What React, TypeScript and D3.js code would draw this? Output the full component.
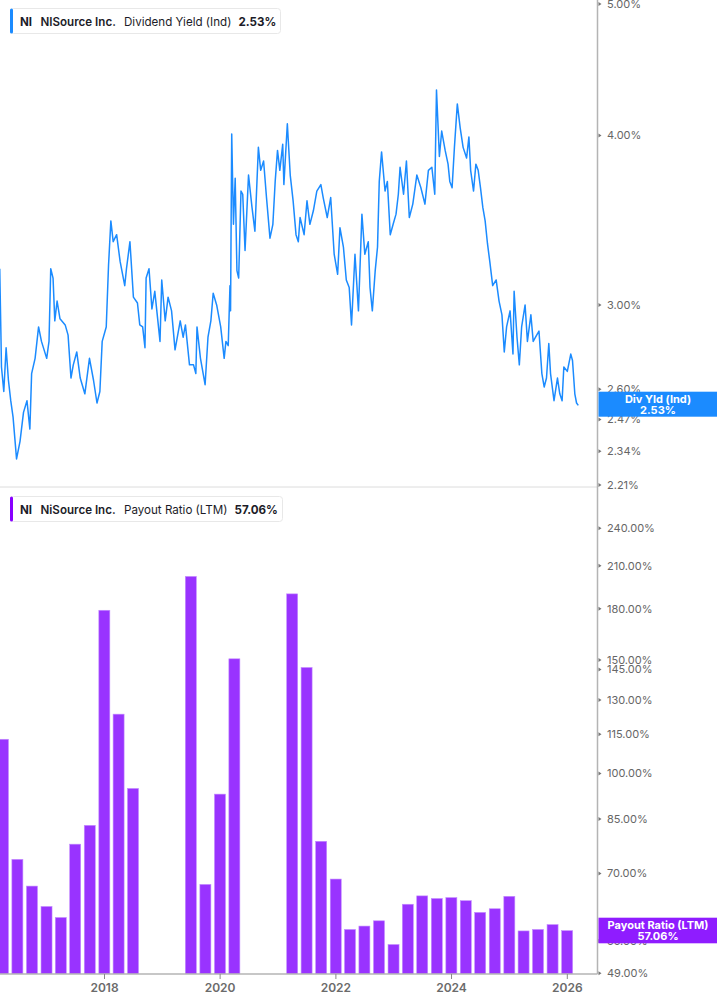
import * as d3 from "d3";

// Dividend yield (indicated), % — [decimal year, value]
const DIV_YIELD: [number, number][] = [
  [2016.19, 3.19], [2016.21, 2.86], [2016.22, 2.7], [2016.26, 2.59], [2016.3, 2.79],
  [2016.34, 2.64], [2016.38, 2.55], [2016.42, 2.48], [2016.48, 2.31], [2016.54, 2.38],
  [2016.6, 2.5], [2016.66, 2.55], [2016.71, 2.43], [2016.74, 2.67], [2016.8, 2.74],
  [2016.86, 2.89], [2016.91, 2.82], [2017.0, 2.74], [2017.04, 2.82], [2017.07, 3.19],
  [2017.11, 3.14], [2017.14, 2.92], [2017.18, 3.02], [2017.23, 2.93], [2017.32, 2.9],
  [2017.37, 2.85], [2017.42, 2.65], [2017.46, 2.71], [2017.52, 2.77], [2017.58, 2.65],
  [2017.66, 2.58], [2017.74, 2.74], [2017.81, 2.64], [2017.87, 2.54], [2017.92, 2.59],
  [2017.96, 2.82], [2018.03, 2.89], [2018.07, 3.21], [2018.11, 3.46], [2018.15, 3.34],
  [2018.21, 3.38], [2018.27, 3.23], [2018.35, 3.1], [2018.38, 3.19], [2018.44, 3.34],
  [2018.5, 3.04], [2018.57, 3.01], [2018.61, 2.9], [2018.66, 2.89], [2018.7, 2.79],
  [2018.72, 3.14], [2018.77, 3.19], [2018.82, 2.98], [2018.87, 3.07], [2018.96, 2.82],
  [2018.99, 3.13], [2019.05, 2.92], [2019.1, 3.04], [2019.16, 2.97], [2019.22, 2.78],
  [2019.31, 2.92], [2019.36, 2.84], [2019.4, 2.9], [2019.47, 2.71], [2019.54, 2.71],
  [2019.58, 2.67], [2019.6, 2.89], [2019.66, 2.74], [2019.74, 2.62], [2019.79, 2.84],
  [2019.84, 2.92], [2019.88, 3.06], [2019.94, 3.0], [2020.01, 2.89], [2020.07, 2.74],
  [2020.1, 2.82], [2020.14, 2.8], [2020.17, 3.1], [2020.18, 2.97], [2020.2, 4.01],
  [2020.23, 3.44], [2020.26, 3.72], [2020.29, 3.18], [2020.32, 3.14], [2020.36, 3.64],
  [2020.39, 3.62], [2020.43, 3.29], [2020.49, 3.74], [2020.55, 3.54], [2020.6, 3.4],
  [2020.66, 3.92], [2020.7, 3.77], [2020.75, 3.83], [2020.8, 3.6], [2020.86, 3.36],
  [2020.91, 3.44], [2020.95, 3.7], [2020.99, 3.9], [2021.03, 3.77], [2021.08, 3.94],
  [2021.1, 3.68], [2021.16, 4.08], [2021.21, 3.74], [2021.26, 3.58], [2021.31, 3.38],
  [2021.35, 3.34], [2021.38, 3.48], [2021.45, 3.38], [2021.5, 3.58], [2021.55, 3.44],
  [2021.61, 3.52], [2021.67, 3.64], [2021.74, 3.68], [2021.78, 3.6], [2021.85, 3.48],
  [2021.91, 3.6], [2021.97, 3.27], [2022.03, 3.16], [2022.07, 3.42], [2022.13, 3.31],
  [2022.18, 3.13], [2022.23, 3.09], [2022.27, 2.9], [2022.33, 3.27], [2022.39, 2.97],
  [2022.45, 3.5], [2022.5, 3.27], [2022.56, 3.34], [2022.59, 3.09], [2022.63, 2.97],
  [2022.68, 3.18], [2022.72, 3.31], [2022.75, 3.7], [2022.79, 3.89], [2022.85, 3.64],
  [2022.89, 3.7], [2022.94, 3.38], [2022.99, 3.44], [2023.04, 3.5], [2023.08, 3.62],
  [2023.11, 3.79], [2023.17, 3.62], [2023.22, 3.83], [2023.27, 3.48], [2023.33, 3.56],
  [2023.4, 3.74], [2023.47, 3.66], [2023.54, 3.56], [2023.6, 3.77], [2023.66, 3.79],
  [2023.71, 3.62], [2023.74, 4.32], [2023.79, 3.86], [2023.83, 4.03], [2023.89, 3.9],
  [2023.94, 3.81], [2023.97, 3.7], [2024.01, 3.66], [2024.05, 3.92], [2024.1, 4.22],
  [2024.15, 4.05], [2024.2, 3.92], [2024.26, 3.85], [2024.3, 3.99], [2024.33, 3.77],
  [2024.38, 3.64], [2024.42, 3.81], [2024.46, 3.77], [2024.5, 3.66], [2024.54, 3.54],
  [2024.58, 3.46], [2024.62, 3.33], [2024.66, 3.23], [2024.71, 3.1], [2024.77, 3.13],
  [2024.82, 3.02], [2024.87, 2.95], [2024.91, 2.77], [2024.95, 2.89], [2025.01, 2.97],
  [2025.06, 2.76], [2025.08, 3.07], [2025.13, 2.84], [2025.17, 2.71], [2025.21, 2.89],
  [2025.27, 3.0], [2025.31, 2.82], [2025.37, 2.95], [2025.41, 2.82], [2025.47, 2.85],
  [2025.51, 2.87], [2025.56, 2.67], [2025.6, 2.61], [2025.64, 2.65], [2025.68, 2.81],
  [2025.71, 2.67], [2025.77, 2.55], [2025.83, 2.65], [2025.87, 2.58], [2025.91, 2.55],
  [2025.94, 2.7], [2026.0, 2.68], [2026.06, 2.76], [2026.09, 2.73], [2026.13, 2.58],
  [2026.16, 2.54], [2026.19, 2.53],
];

// Payout ratio (LTM), % — quarter ends; quarters with no ratio are left out
const PAYOUT_QUARTERS = [
  "2016-03-31", "2016-06-30", "2016-09-30", "2016-12-31", "2017-03-31", "2017-06-30",
  "2017-09-30", "2017-12-31", "2018-03-31", "2018-06-30", "2019-06-30", "2019-09-30",
  "2019-12-31", "2020-03-31", "2021-03-31", "2021-06-30", "2021-09-30", "2021-12-31",
  "2022-03-31", "2022-06-30", "2022-09-30", "2022-12-31", "2023-03-31", "2023-06-30",
  "2023-09-30", "2023-12-31", "2024-03-31", "2024-06-30", "2024-09-30", "2024-12-31",
  "2025-03-31", "2025-06-30", "2025-09-30", "2025-12-31",
];
const PAYOUT_VALUES = [
  113.0, 73.6, 66.9, 62.2, 59.8, 77.7, 83.1, 179.1, 123.6, 94.8, 202.1, 67.3,
  92.9, 150.6, 189.9, 146.0, 78.5, 68.6, 57.3, 58.0, 59.1, 54.3, 62.7, 64.6,
  64.0, 64.2, 63.5, 60.9, 61.7, 64.5, 57.0, 57.3, 58.3, 57.06,
];

const YIELD_TICKS = [5.0, 4.0, 3.0, 2.6, 2.47, 2.34, 2.21];
const PAYOUT_TICKS = [240, 210, 180, 150, 145, 130, 115, 100, 85, 70, 55, 49];
const YEAR_TICKS = [2018, 2020, 2022, 2024, 2026];

const LAST_YIELD = "2.53%";
const LAST_PAYOUT = "57.06%";

const W = 717;
const H = 1005;
const AXIS_X = 597.5;
const SPLIT_Y = 487;
const BASE_Y = 974;
const FONT = "Inter, 'Noto Sans', sans-serif";
const BLUE = "#1b8bff";
const PURPLE = "#9933ff";

const toDate = (t: number) => {
  const y = Math.floor(t);
  const a = Date.UTC(y, 0, 1);
  const b = Date.UTC(y + 1, 0, 1);
  return new Date(a + (t - y) * (b - a));
};
const parse = d3.utcParse("%Y-%m-%d");

export default function App() {
  const x = d3
    .scaleUtc()
    .domain([toDate(2018), toDate(2026)])
    .range([104.5, 567.3]);
  const yTop = d3.scaleLog().domain([2.21, 5]).range([485, 4]);
  const yBot = d3.scaleLog().domain([49, 240]).range([BASE_Y - 0.7, 528.3]);

  const line = d3
    .line<[number, number]>()
    .x((d) => x(toDate(d[0])))
    .y((d) => yTop(d[1]))
    .curve(d3.curveLinear);

  const bars = PAYOUT_QUARTERS.map((q, i) => ({ date: parse(q)!, value: PAYOUT_VALUES[i] }));
  const bw = 11;

  const tickMark = (ty: number, key: string) => (
    <path key={key} d={`M${AXIS_X + 1},${ty - 2}L${AXIS_X + 4},${ty}L${AXIS_X + 1},${ty + 2}Z`} fill="#777" />
  );

  return (
    <svg
      width={W}
      height={H}
      viewBox={`0 0 ${W} ${H}`}
      style={{ position: "absolute", left: 0, top: 0, background: "#fff", fontFamily: FONT }}
    >
      <defs>
        <clipPath id="plotTop">
          <rect x={0} y={0} width={AXIS_X} height={SPLIT_Y} />
        </clipPath>
        <clipPath id="plotBot">
          <rect x={0} y={SPLIT_Y} width={AXIS_X} height={BASE_Y - SPLIT_Y} />
        </clipPath>
      </defs>

      {/* panel separator */}
      <line x1={0} x2={AXIS_X} y1={SPLIT_Y} y2={SPLIT_Y} stroke="#dcdcdc" strokeWidth={1} />

      {/* dividend yield line */}
      <path
        d={line(DIV_YIELD) ?? ""}
        fill="none"
        stroke={BLUE}
        strokeWidth={1.5}
        strokeLinejoin="round"
        clipPath="url(#plotTop)"
      />

      {/* payout bars */}
      <g clipPath="url(#plotBot)">
        {bars.map((b) => (
          <rect
            key={b.date.toISOString()}
            x={x(b.date) - bw / 2}
            y={yBot(b.value)}
            width={bw}
            height={BASE_Y - yBot(b.value)}
            fill={PURPLE}
            stroke="#c38cff"
            strokeWidth={0.6}
          />
        ))}
      </g>

      {/* x axis */}
      <line x1={0} x2={AXIS_X} y1={BASE_Y} y2={BASE_Y} stroke="#b4b4b4" strokeWidth={1.5} />
      {YEAR_TICKS.map((yr) => (
        <g key={yr}>
          <line x1={x(toDate(yr))} x2={x(toDate(yr))} y1={BASE_Y} y2={BASE_Y + 5} stroke="#888" strokeWidth={1} />
          <text
            x={x(toDate(yr))}
            y={BASE_Y + 18}
            textAnchor="middle"
            fontSize={12}
            fontWeight={600}
            fill="#6b6b6b"
          >
            {yr}
          </text>
        </g>
      ))}

      {/* right axis */}
      <line x1={AXIS_X} x2={AXIS_X} y1={0} y2={BASE_Y} stroke="#b4b4b4" strokeWidth={1.5} />
      {YIELD_TICKS.map((t) => (
        <g key={`yt${t}`}>
          {tickMark(yTop(t), `m${t}`)}
          <text x={607} y={yTop(t)} dy="0.35em" fontSize={11} fill="#666">
            {t.toFixed(2)}%
          </text>
        </g>
      ))}
      {PAYOUT_TICKS.map((t) => (
        <g key={`pt${t}`}>
          {tickMark(yBot(t), `m${t}`)}
          <text x={607} y={yBot(t)} dy="0.35em" fontSize={11} fill="#666">
            {t.toFixed(2)}%
          </text>
        </g>
      ))}

      {/* last value labels */}
      <rect x={AXIS_X + 1} y={391.7} width={W - AXIS_X} height={25} fill={BLUE} />
      <text x={658} y={402.5} textAnchor="middle" fontSize={11} fontWeight={700} fill="#fff">
        Div Yld (Ind)
      </text>
      <text x={658} y={414} textAnchor="middle" fontSize={11} fontWeight={700} fill="#fff">
        {LAST_YIELD}
      </text>

      <rect x={AXIS_X + 1} y={917.7} width={W - AXIS_X} height={25.6} fill="#8f1cff" />
      <text x={658} y={929} textAnchor="middle" fontSize={11} fontWeight={700} fill="#fff">
        Payout Ratio (LTM)
      </text>
      <text x={658} y={940} textAnchor="middle" fontSize={11} fontWeight={700} fill="#fff">
        {LAST_PAYOUT}
      </text>

      {/* legends */}
      <g>
        <rect x={10.5} y={8.5} width={270} height={25} rx={3} fill="#fff" stroke="#e8e8e8" />
        <rect x={10} y={8.5} width={3} height={25} rx={1.5} fill={BLUE} />
        <text y={25.5} fontSize={11.6} fill="#1c1c28">
          <tspan x={20} fontWeight={700}>NI</tspan>
          <tspan x={40.5} fontWeight={600}>NISource Inc.</tspan>
          <tspan x={124} fontWeight={400}>Dividend Yield (Ind)</tspan>
          <tspan x={238.5} fontWeight={700}>{LAST_YIELD}</tspan>
        </text>
      </g>
      <g>
        <rect x={10.5} y={496.5} width={272} height={25} rx={3} fill="#fff" stroke="#e8e8e8" />
        <rect x={10} y={496.5} width={3} height={25} rx={1.5} fill="#8800ff" />
        <text y={513.5} fontSize={11.6} fill="#1c1c28">
          <tspan x={20} fontWeight={700}>NI</tspan>
          <tspan x={40.5} fontWeight={600}>NiSource Inc.</tspan>
          <tspan x={124} fontWeight={400}>Payout Ratio (LTM)</tspan>
          <tspan x={234.5} fontWeight={700}>{LAST_PAYOUT}</tspan>
        </text>
      </g>
    </svg>
  );
}
